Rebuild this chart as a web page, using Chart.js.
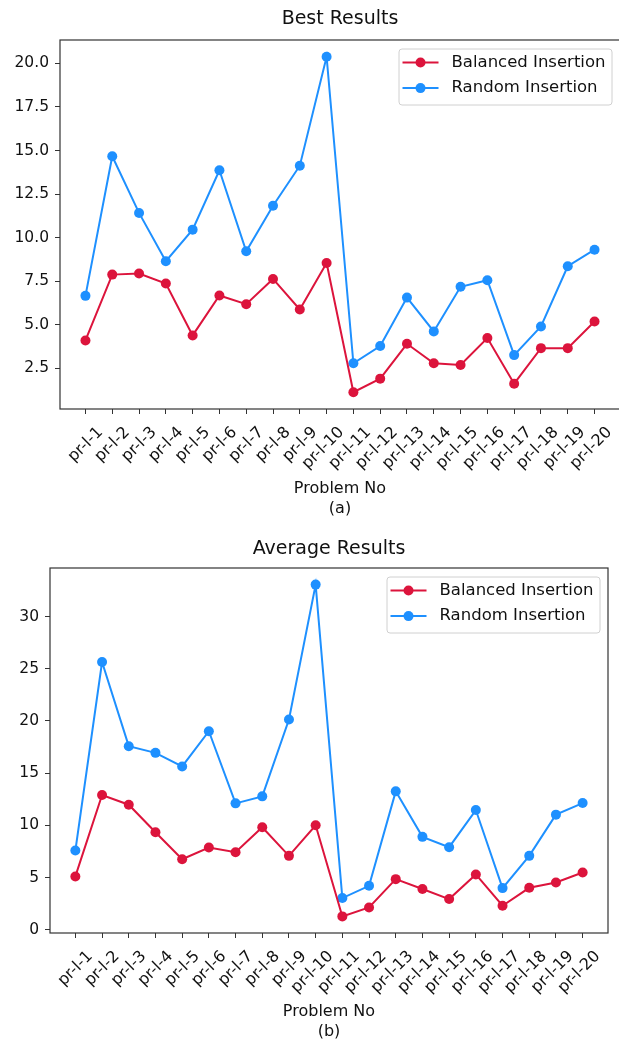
<!DOCTYPE html>
<html>
<head>
<meta charset="utf-8">
<script src="https://cdn.jsdelivr.net/npm/chart.js@4.4.1/dist/chart.umd.min.js"></script>
<style>
  html, body { margin: 0; padding: 0; background: #fff; overflow: hidden; width: 619px; height: 1041px; }
  .wrap { position: absolute; left: 0; }
  #w1 { top: 0; }
  #w2 { top: 520px; }
</style>
</head>
<body>
<div class="wrap" id="w1"><canvas id="best" width="625" height="520"></canvas></div>
<div class="wrap" id="w2"><canvas id="avg" width="619" height="521"></canvas></div>
<script>
const problems = ['pr-l-1', 'pr-l-2', 'pr-l-3', 'pr-l-4', 'pr-l-5', 'pr-l-6', 'pr-l-7', 'pr-l-8', 'pr-l-9', 'pr-l-10',
  'pr-l-11', 'pr-l-12', 'pr-l-13', 'pr-l-14', 'pr-l-15', 'pr-l-16', 'pr-l-17', 'pr-l-18', 'pr-l-19', 'pr-l-20'];

const bestBalanced = [4.10, 7.88, 7.94, 7.37, 4.39, 6.68, 6.18, 7.63, 5.88, 8.55, 1.13, 1.91, 3.91, 2.79, 2.69, 4.24, 1.62, 3.66, 3.66, 5.19];
const bestRandom = [6.66, 14.67, 11.42, 8.65, 10.46, 13.87, 9.22, 11.83, 14.13, 20.38, 2.79, 3.78, 6.56, 4.62, 7.18, 7.56, 3.26, 4.90, 8.36, 9.31];
const avgBalanced = [5.10, 12.90, 11.97, 9.33, 6.75, 7.87, 7.42, 9.81, 7.07, 10.00, 1.27, 2.13, 4.84, 3.89, 2.93, 5.29, 2.29, 4.01, 4.52, 5.48];
const avgRandom = [7.58, 25.64, 17.58, 16.94, 15.64, 19.01, 12.10, 12.77, 20.13, 33.06, 3.03, 4.20, 13.25, 8.89, 7.90, 11.46, 3.98, 7.07, 11.02, 12.13];

const bestTicks = [2.5, 5, 7.5, 10, 12.5, 15, 17.5, 20];
const avgTicks = [0, 5, 10, 15, 20, 25, 30];

const FONT = 'DejaVu Sans';
const RED = '#dc143c';
const BLUE = '#1e90ff';

// matplotlib style frame around the plot area
const frame = {
  id: 'frame',
  afterDraw(chart) {
    const { ctx, chartArea: a } = chart;
    ctx.save();
    ctx.strokeStyle = '#333';
    ctx.lineWidth = 1.2;
    ctx.strokeRect(a.left, a.top, a.right - a.left, a.bottom - a.top);
    ctx.restore();
  }
};

// legend box in the upper right corner (line + marker handle)
const legendBox = {
  id: 'legendBox',
  afterDraw(chart) {
    const { ctx, chartArea: a } = chart;
    const items = chart.data.datasets;
    ctx.save();
    ctx.font = '16.5px "' + FONT + '"';
    const tw = Math.max(...items.map(d => ctx.measureText(d.label).width));
    const w = 4 + 36 + 13 + tw + 6;
    const h = 56;
    const x = a.right - 8.5 - w;
    const y = a.top + 8.5;
    ctx.fillStyle = 'rgba(255,255,255,0.8)';
    ctx.strokeStyle = '#d0d0d0';
    ctx.lineWidth = 1;
    ctx.beginPath();
    ctx.roundRect(x + 0.5, y + 0.5, w, h, 3);
    ctx.fill();
    ctx.stroke();
    items.forEach((d, i) => {
      const cy = y + 14 + i * 25.6;
      ctx.strokeStyle = d.borderColor;
      ctx.lineWidth = d.borderWidth;
      ctx.beginPath();
      ctx.moveTo(x + 4, cy);
      ctx.lineTo(x + 40, cy);
      ctx.stroke();
      ctx.fillStyle = d.pointBackgroundColor;
      ctx.beginPath();
      ctx.arc(x + 22, cy, d.pointRadius, 0, Math.PI * 2);
      ctx.fill();
      ctx.fillStyle = '#111';
      ctx.textBaseline = 'middle';
      ctx.fillText(d.label, x + 53, cy);
    });
    ctx.restore();
  }
};

function series(label, values, color) {
  return {
    label: label,
    data: values.map((v, i) => ({ x: i, y: v })),
    borderColor: color,
    backgroundColor: color,
    pointBackgroundColor: color,
    pointBorderWidth: 0,
    pointRadius: 5,
    borderWidth: 2,
    tension: 0
  };
}

function makeChart(id, cfg) {
  const all = cfg.balanced.concat(cfg.random);
  const lo = Math.min(...all), hi = Math.max(...all);
  const n = problems.length - 1;
  const tickFont = { family: FONT, size: 15.5 };

  return new Chart(document.getElementById(id), {
    type: 'line',
    data: {
      datasets: [
        series('Balanced Insertion', cfg.balanced, RED),
        series('Random Insertion', cfg.random, BLUE)
      ]
    },
    options: {
      responsive: false,
      animation: false,
      devicePixelRatio: 1,
      layout: { padding: { left: 0, right: cfg.padRight, top: 0, bottom: 0 } },
      plugins: { legend: { display: false }, tooltip: { enabled: false } },
      scales: {
        x: {
          type: 'linear',
          position: 'bottom',
          bounds: 'data',
          min: -0.05 * n,
          max: n * 1.05,
          afterBuildTicks: s => { s.ticks = problems.map((p, i) => ({ value: i })); },
          afterFit: s => { s.height = cfg.xHeight; },
          ticks: {
            autoSkip: false,
            minRotation: 45,
            maxRotation: 45,
            padding: 9,
            labelOffset: 15,
            color: '#111',
            font: { family: FONT, size: 16 },
            callback: v => problems[Math.round(v)]
          },
          grid: { display: true, drawOnChartArea: false, drawTicks: true, tickLength: 5, color: '#333' },
          border: { display: false },
          title: {
            display: true,
            text: ['Problem No', cfg.sub],
            color: '#111',
            font: { family: FONT, size: 16, lineHeight: 1.2 },
            padding: { top: 0, bottom: cfg.subPad }
          }
        },
        top: {
          type: 'linear',
          position: 'top',
          min: 0,
          max: 1,
          afterFit: s => { s.height = cfg.top; },
          ticks: { display: false },
          grid: { display: false },
          border: { display: false },
          title: {
            display: true,
            text: cfg.title,
            color: '#111',
            font: { family: FONT, size: 19, lineHeight: 1.2 },
            padding: { top: cfg.titlePad, bottom: 0 }
          }
        },
        y: {
          type: 'linear',
          bounds: 'data',
          min: lo - 0.05 * (hi - lo),
          max: hi + 0.05 * (hi - lo),
          afterBuildTicks: s => { s.ticks = cfg.yTicks.map(v => ({ value: v })); },
          afterFit: s => { s.width = cfg.left; },
          ticks: {
            padding: 6,
            color: '#111',
            font: tickFont,
            callback: v => v.toFixed(cfg.decimals)
          },
          grid: { display: true, drawOnChartArea: false, drawTicks: true, tickLength: 5, color: '#333' },
          border: { display: false }
        }
      }
    },
    plugins: [frame, legendBox]
  });
}

makeChart('best', {
  balanced: bestBalanced, random: bestRandom, yTicks: bestTicks, decimals: 1,
  title: 'Best Results', sub: '(a)',
  left: 60, top: 40, xHeight: 111, padRight: 3, titlePad: 8, subPad: 2
});

makeChart('avg', {
  balanced: avgBalanced, random: avgRandom, yTicks: avgTicks, decimals: 0,
  title: 'Average Results', sub: '(b)',
  left: 50, top: 48, xHeight: 108, padRight: 11, titlePad: 18, subPad: 0
});
</script>
</body>
</html>
